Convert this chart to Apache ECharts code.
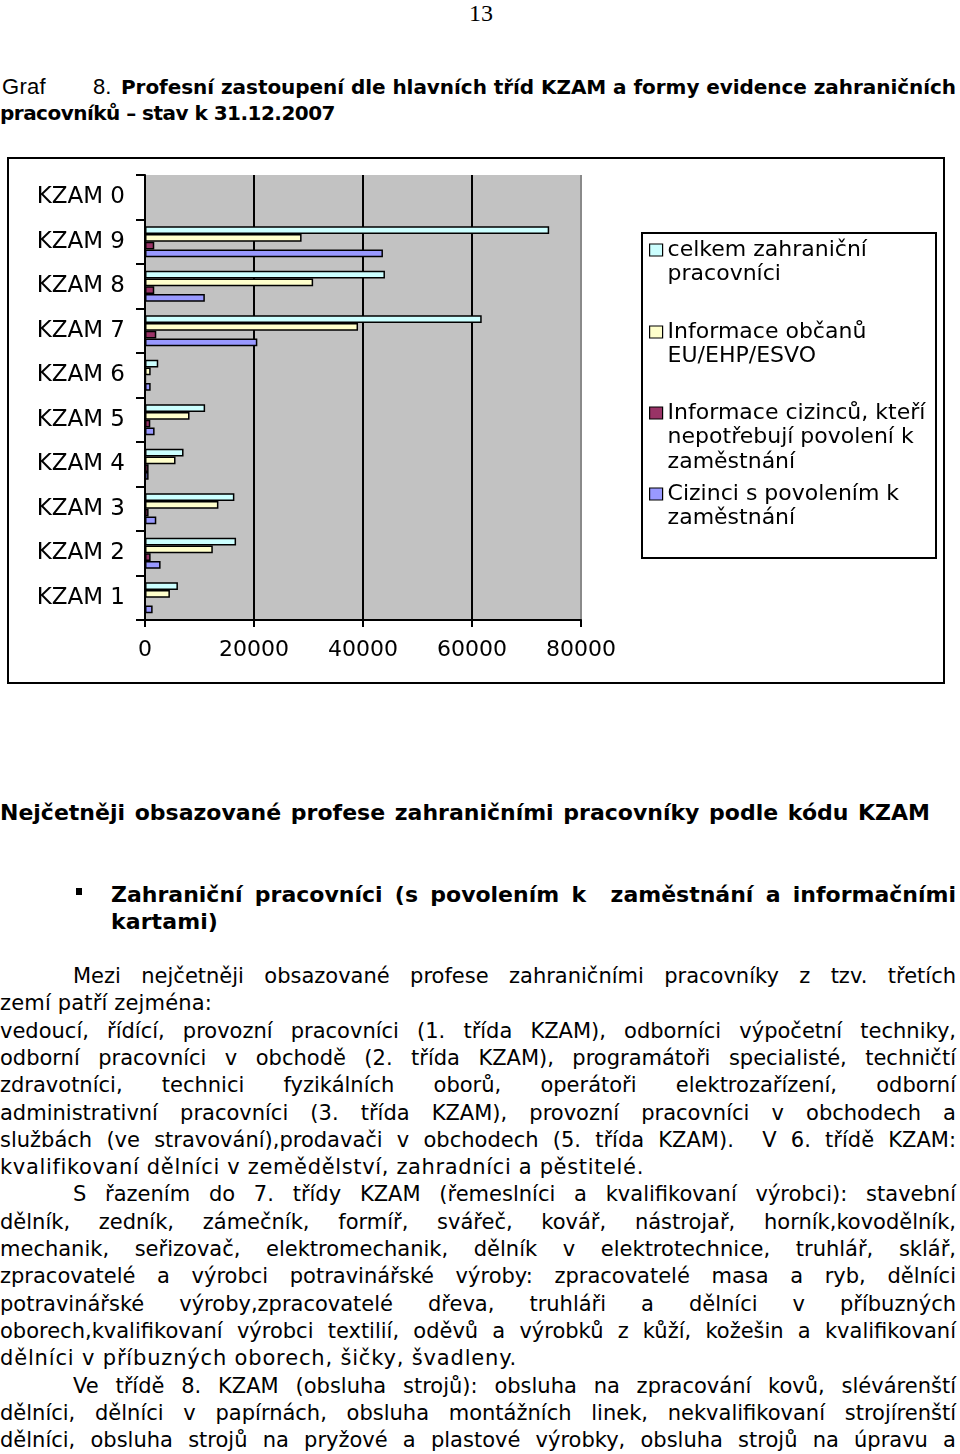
<!DOCTYPE html>
<html><head><meta charset="utf-8">
<script src="https://cdn.jsdelivr.net/npm/echarts@6/dist/echarts.min.js"></script>
<style>
html,body{margin:0;padding:0;background:#fff;}
#page{position:relative;width:960px;height:1454px;overflow:hidden;background:#fff;}
.t{position:absolute;white-space:pre;color:#000;line-height:26px;display:inline-block;}
.b{font-family:"DejaVu Sans",sans-serif;font-size:21px;}
.bd{font-family:"DejaVu Sans",sans-serif;font-weight:bold;}
#chart{position:absolute;left:0;top:150px;width:960px;height:545px;}
</style></head><body>
<div id="page">
<div id="chart"></div>
</div>
<script>
// ---------------- data ----------------
const categories = ['KZAM 1','KZAM 2','KZAM 3','KZAM 4','KZAM 5','KZAM 6','KZAM 7','KZAM 8','KZAM 9','KZAM 0'];
const seriesNames = ['celkem zahraniční pracovníci','Informace občanů EU/EHP/ESVO','Informace cizinců, kteří nepotřebují povolení k zaměstnání','Cizinci s povolením k zaměstnání'];
const legendLines = [['celkem zahraniční','pracovníci'],['Informace občanů','EU/EHP/ESVO'],['Informace cizinců, kteří','nepotřebují povolení k','zaměstnání'],['Cizinci s povolením k','zaměstnání']];
const celkem      = [6040, 16710, 16400, 7070, 11030, 2430, 61780, 44030, 74160, 0];
const obcaneEU    = [4570, 12440, 13470, 5600, 8170, 1040, 39090, 30850, 28730, 0];
const bezPovoleni = [100, 1030, 660, 660, 970, 150, 2070, 1700, 1700, 0];
const sPovolenim  = [1400, 2860, 2070, 660, 1760, 1040, 20610, 10980, 43660, 0];
const xTicks = [0, 20000, 40000, 60000, 80000];
const colors = ['#CCFFFF','#FFFFCC','#993366','#9999FF'];

// page text
const pageNumber = '13';
const titleLead = ['Graf', '8.'];
const titleBold1 = 'Profesní zastoupení dle hlavních tříd KZAM a formy evidence zahraničních';
const titleBold2 = 'pracovníků – stav k 31.12.2007';
const heading = 'Nejčetněji obsazované profese zahraničními pracovníky podle kódu KZAM';
const bulletLines = ['Zahraniční pracovníci (s povolením k  zaměstnání a informačními', 'kartami)'];
const bodyLines = [
 ['Mezi nejčetněji obsazované profese zahraničními pracovníky z tzv. třetích', 73, 956, 'j'],
 ['zemí patří zejména:', 0, 212, 'l'],
 ['vedoucí, řídící, provozní pracovníci (1. třída KZAM), odborníci výpočetní techniky,', 0, 956, 'j'],
 ['odborní pracovníci v obchodě (2. třída KZAM), programátoři specialisté, techničtí', 0, 956, 'j'],
 ['zdravotníci, technici fyzikálních oborů, operátoři elektrozařízení, odborní', 0, 956, 'j'],
 ['administrativní pracovníci (3. třída KZAM), provozní pracovníci v obchodech a', 0, 956, 'j'],
 ['službách (ve stravování),prodavači v obchodech (5. třída KZAM).  V 6. třídě KZAM:', 0, 956, 'j'],
 ['kvalifikovaní dělníci v zemědělství, zahradníci a pěstitelé.', 0, 644, 'l'],
 ['S řazením do 7. třídy KZAM (řemeslníci a kvalifikovaní výrobci): stavební', 73, 956, 'j'],
 ['dělník, zedník, zámečník, formíř, svářeč, kovář, nástrojař, horník,kovodělník,', 0, 956, 'j'],
 ['mechanik, seřizovač, elektromechanik, dělník v elektrotechnice, truhlář, sklář,', 0, 956, 'j'],
 ['zpracovatelé a výrobci potravinářské výroby: zpracovatelé masa a ryb, dělníci', 0, 956, 'j'],
 ['potravinářské výroby,zpracovatelé dřeva, truhláři a dělníci v příbuzných', 0, 956, 'j'],
 ['oborech,kvalifikovaní výrobci textilií, oděvů a výrobků z kůží, kožešin a kvalifikovaní', 0, 956, 'j'],
 ['dělníci v příbuzných oborech, šičky, švadleny.', 0, 517, 'l'],
 ['Ve třídě 8. KZAM (obsluha strojů): obsluha na zpracování kovů, slévárenští', 73, 956, 'j'],
 ['dělníci, dělníci v papírnách, obsluha montážních linek, nekvalifikovaní strojírenští', 0, 956, 'j'],
 ['dělníci, obsluha strojů na pryžové a plastové výrobky, obsluha strojů na úpravu a', 0, 956, 'j']
];
const bodyTop = 976, bodyStep = 27.3;

// ---------------- page text ----------------
const page = document.getElementById('page');
function addText(txt, x, yc, cls, style, w, mode) {
  const d = document.createElement('div');
  d.className = 't ' + cls;
  d.textContent = txt;
  d.style.left = x + 'px';
  d.style.top = (yc - 13) + 'px';
  if (style) Object.assign(d.style, style);
  if (w) { d.dataset.w = w; d.dataset.mode = mode || 'j'; }
  page.appendChild(d);
  return d;
}
addText(pageNumber, 469, 13, '', {fontFamily:'"Liberation Serif",serif', fontSize:'24px'});
addText(titleLead[0], 2, 87, '', {fontFamily:'"Liberation Sans",sans-serif', fontSize:'22px'}, 44, 'l');
addText(titleLead[1], 93, 87, '', {fontFamily:'"Liberation Sans",sans-serif', fontSize:'22px'});
addText(titleBold1, 121, 87, 'bd', {fontSize:'20px'}, 835, 'j');
addText(titleBold2, 0, 113, 'bd', {fontSize:'20px'}, 335, 'l');
addText(heading, 0, 813, 'bd', {fontSize:'22px'}, 930, 'j');
const bullet = document.createElement('div');
Object.assign(bullet.style, {position:'absolute', left:'76px', top:'888px', width:'6px', height:'7px', background:'#000'});
page.appendChild(bullet);
addText(bulletLines[0], 111, 895, 'bd', {fontSize:'22px'}, 845, 'j');
addText(bulletLines[1], 111, 922, 'bd', {fontSize:'22px'}, 107, 'l');
bodyLines.forEach((l, i) => {
  addText(l[0], l[1], bodyTop + i * bodyStep, 'b', null, l[2] - l[1], l[3]);
});

function fitAll() {
  document.querySelectorAll('[data-w]').forEach(el => {
    const target = +el.dataset.w;
    el.style.wordSpacing = '0px'; el.style.letterSpacing = '0px';
    const nat = el.getBoundingClientRect().width;
    const txt = el.textContent;
    const spaces = (txt.match(/ /g) || []).length;
    const extra = target - nat;
    if (el.dataset.mode === 'l' || extra < 0 || spaces === 0) {
      el.style.letterSpacing = (extra / txt.length) + 'px';
    } else {
      el.style.wordSpacing = (extra / spaces) + 'px';
    }
  });
}
fitAll();
if (document.fonts && document.fonts.ready) document.fonts.ready.then(fitAll);

// ---------------- chart ----------------
const chart = echarts.init(document.getElementById('chart'), null, {renderer: 'canvas'});
const FONT = '"DejaVu Sans", sans-serif';
const seriesData = [celkem, obcaneEU, bezPovoleni, sPovolenim];
const lh = 24.5;
const iconCenters = [100, 182, 263, 344];
const legends = seriesNames.map((name, i) => {
  const n = legendLines[i].length;
  // blank leading lines keep the icon level with the first text line
  const txt = new Array(n - 1).fill('').concat(legendLines[i]).join('\n');
  return {
    data: [name],
    left: 649,
    top: iconCenters[i] - (2 * n - 1) * lh / 2,
    orient: 'vertical',
    padding: 0,
    itemWidth: 13,
    itemHeight: 12,
    icon: 'rect',
    selectedMode: false,
    z: 10,
    itemStyle: {borderColor: '#000', borderWidth: 1.2},
    formatter: () => txt,
    textStyle: {fontFamily: FONT, fontSize: 22, color: '#000', lineHeight: lh}
  };
});
chart.setOption({
  animation: false,
  backgroundColor: 'transparent',
  graphic: [
    {type: 'rect', z: 0, shape: {x: 8, y: 8, width: 936, height: 525}, style: {fill: 'none', stroke: '#000', lineWidth: 2}},
    {type: 'rect', z: 1, shape: {x: 642, y: 83, width: 294, height: 325}, style: {fill: '#fff', stroke: '#000', lineWidth: 2}}
  ],
  legend: legends,
  grid: {left: 145, top: 25, width: 436, height: 445, show: true, backgroundColor: '#c2c2c2', borderWidth: 0, containLabel: false},
  xAxis: {
    type: 'value', min: xTicks[0], max: xTicks[xTicks.length - 1], interval: xTicks[1] - xTicks[0],
    axisLine: {show: true, lineStyle: {color: '#000', width: 2}},
    axisTick: {show: true, length: 7, lineStyle: {color: '#000', width: 2}},
    axisLabel: {fontFamily: FONT, fontSize: 22, color: '#000', margin: 19, showMinLabel: true, showMaxLabel: true,
      formatter: v => String(v)},
    splitLine: {show: true, lineStyle: {color: ['#000', '#000', '#000', '#000', '#8a8a8a'], width: 2}}
  },
  yAxis: {
    type: 'category', data: categories,
    axisLine: {show: true, lineStyle: {color: '#000', width: 2}},
    axisTick: {show: true, length: 9, lineStyle: {color: '#000', width: 2}},
    axisLabel: {fontFamily: FONT, fontSize: 23, color: '#000', margin: 20},
    splitLine: {show: false}
  },
  series: seriesNames.map((name, i) => ({
    type: 'bar', name: name, data: seriesData[i],
    barGap: '0%', barCategoryGap: '30%',
    itemStyle: {color: colors[i], borderColor: '#000', borderWidth: 1.5},
    z: 3
  }))
});
</script>
</body></html>
